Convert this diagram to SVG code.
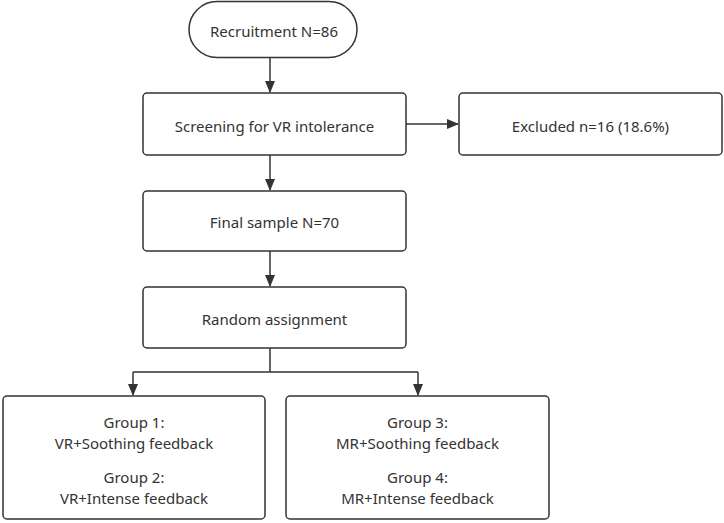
<svg xmlns="http://www.w3.org/2000/svg" width="724" height="523" viewBox="0 0 724 523">
<style>
.box{fill:#fff;stroke:#333;stroke-width:1.5}
.t{font-family:"Noto Sans","Open Sans",sans-serif;font-size:15px;fill:#333;text-anchor:middle;dominant-baseline:central}
.c{fill:none;stroke:#333;stroke-width:1.5}
</style>
<defs>
<marker id="ah" markerWidth="12" markerHeight="10" refX="11" refY="5" orient="auto" markerUnits="userSpaceOnUse">
<path d="M0,0 L12,5 L0,10 Z" fill="#333"/>
</marker>
</defs>
<rect width="724" height="523" fill="#fff"/>
<g id="connectors">
<path class="c" d="M270,58 V92" marker-end="url(#ah)"/>
<path class="c" d="M406,124 H458" marker-end="url(#ah)"/>
<path class="c" d="M270,155 V190" marker-end="url(#ah)"/>
<path class="c" d="M270,251 V286" marker-end="url(#ah)"/>
<path class="c" d="M270,348 V372 M133,372 H418"/>
<path class="c" d="M133,372 V395" marker-end="url(#ah)"/>
<path class="c" d="M418,372 V395" marker-end="url(#ah)"/>
</g>
<g id="recruitment">
<rect class="box" x="189" y="1.5" width="168" height="56" rx="28"/>
<text class="t" x="274" y="31">Recruitment N=86</text>
</g>
<g id="screening">
<rect class="box" x="143" y="93" width="263" height="62" rx="4"/>
<text class="t" x="274.5" y="126">Screening for VR intolerance</text>
</g>
<g id="excluded">
<rect class="box" x="459" y="93" width="263" height="62" rx="4"/>
<text class="t" x="590.5" y="126">Excluded n=16 (18.6%)</text>
</g>
<g id="final">
<rect class="box" x="143" y="191" width="263" height="60" rx="4"/>
<text class="t" x="274.5" y="222">Final sample N=70</text>
</g>
<g id="random">
<rect class="box" x="143" y="287" width="263" height="61" rx="4"/>
<text class="t" x="274.5" y="319">Random assignment</text>
</g>
<g id="group12">
<rect class="box" x="3" y="396" width="262" height="123" rx="4"/>
<text class="t" x="134" y="422">Group 1:</text>
<text class="t" x="134" y="443">VR+Soothing feedback</text>
<text class="t" x="134" y="477">Group 2:</text>
<text class="t" x="134" y="498">VR+Intense feedback</text>
</g>
<g id="group34">
<rect class="box" x="286" y="396" width="263" height="123" rx="4"/>
<text class="t" x="417.5" y="422">Group 3:</text>
<text class="t" x="417.5" y="443">MR+Soothing feedback</text>
<text class="t" x="417.5" y="477">Group 4:</text>
<text class="t" x="417.5" y="498">MR+Intense feedback</text>
</g>
</svg>
